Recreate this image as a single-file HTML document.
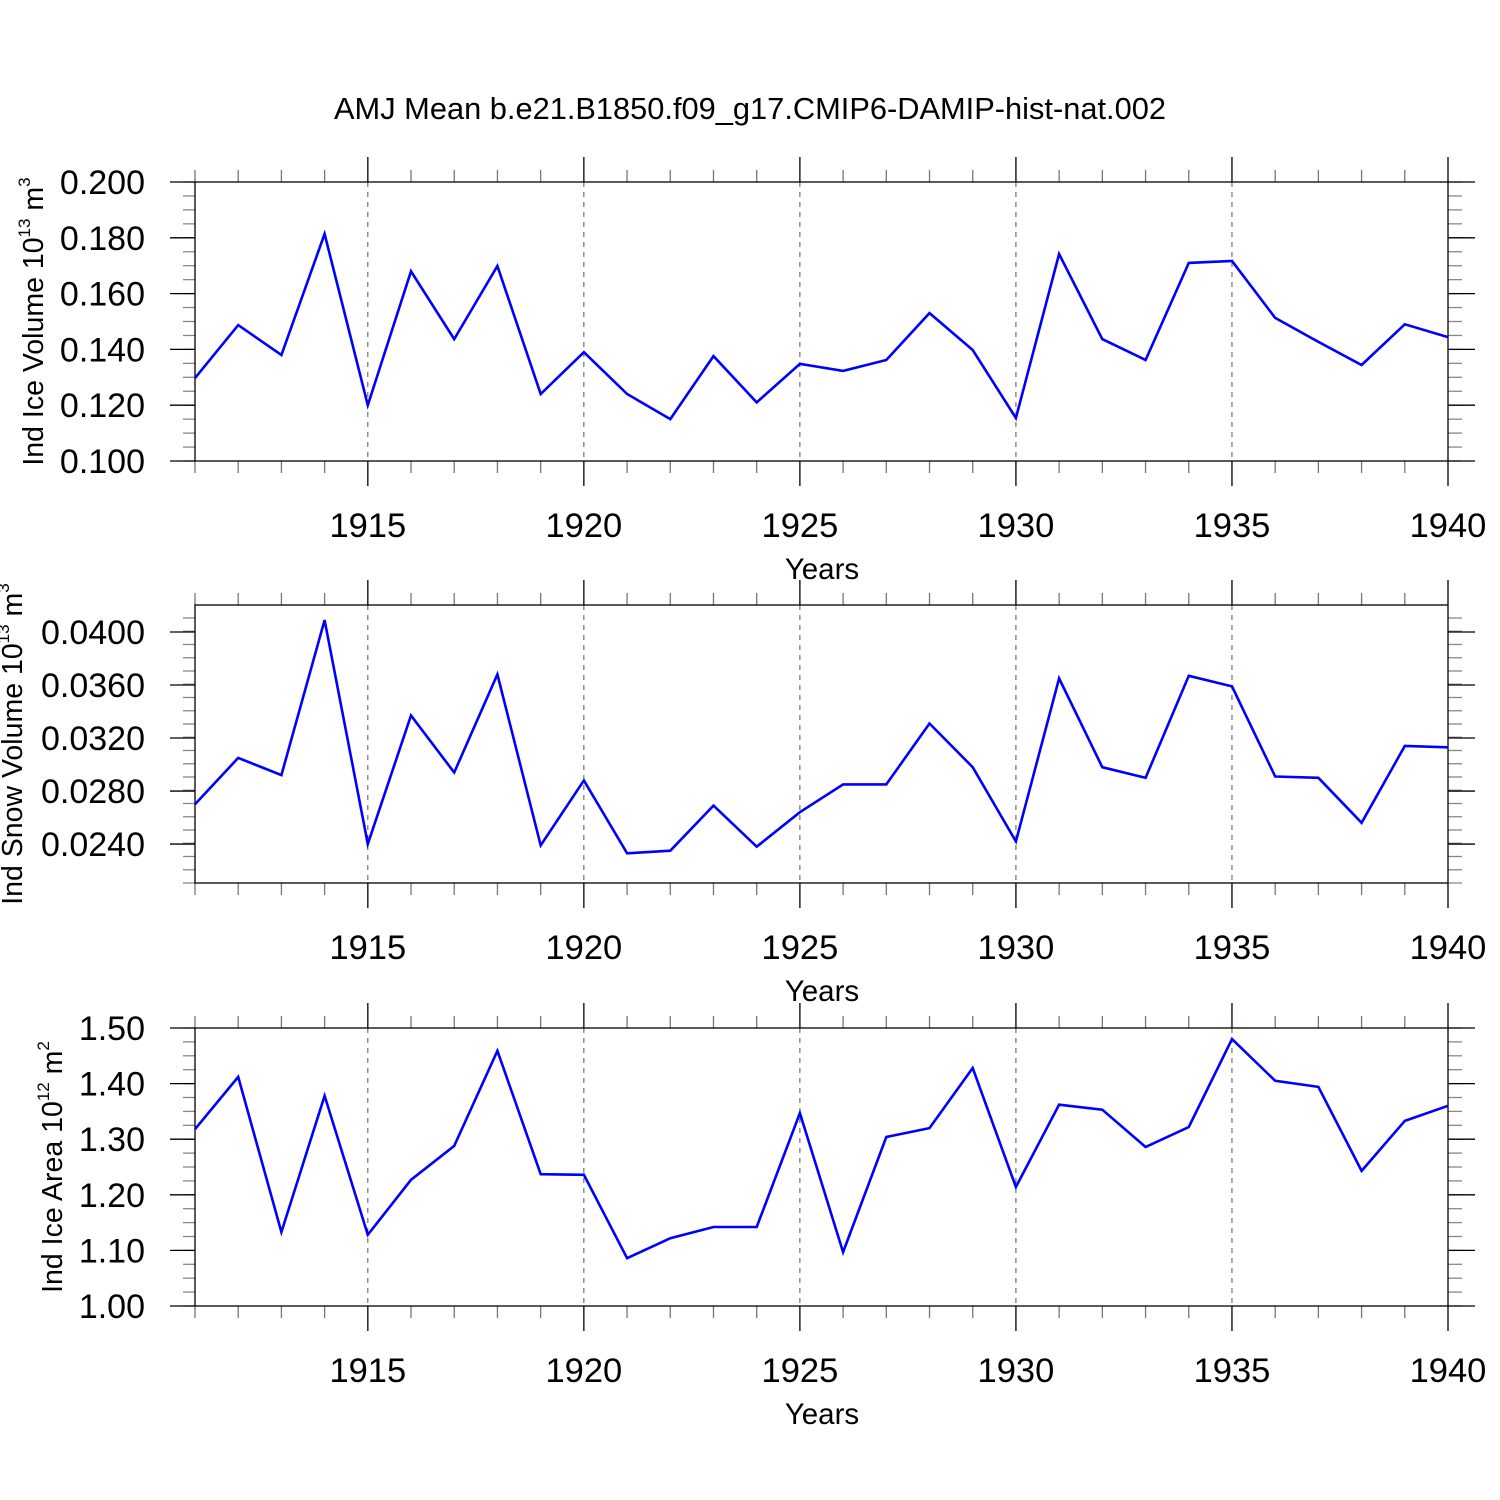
<!DOCTYPE html>
<html><head><meta charset="utf-8"><style>
html,body{margin:0;padding:0;background:#fff;}
svg{display:block;font-family:"Liberation Sans",Arial,sans-serif;}
</style></head><body>
<svg id="chart" width="1500" height="1500" viewBox="0 0 1500 1500" xmlns="http://www.w3.org/2000/svg">
<rect width="1500" height="1500" fill="#fff"/>
<text x="750" y="119" font-size="30.8" text-anchor="middle">AMJ Mean b.e21.B1850.f09_g17.CMIP6-DAMIP-hist-nat.002</text>
</svg>
<script>
const years = [1911,1912,1913,1914,1915,1916,1917,1918,1919,1920,1921,1922,1923,1924,1925,1926,1927,1928,1929,1930,1931,1932,1933,1934,1935,1936,1937,1938,1939,1940];
const xTickLabels = ["1915","1920","1925","1930","1935","1940"];
const iceVolume = [0.1297,0.1487,0.138,0.1814,0.120,0.168,0.1437,0.1699,0.124,0.139,0.124,0.115,0.1376,0.121,0.1348,0.1323,0.1362,0.153,0.1398,0.1154,0.1742,0.1437,0.1362,0.171,0.1717,0.1513,0.1427,0.1344,0.149,0.1444];
const snowVolume = [0.0270,0.0305,0.0292,0.0409,0.0240,0.0337,0.0294,0.0368,0.0239,0.0288,0.0233,0.0235,0.0269,0.0238,0.0264,0.0285,0.0285,0.0331,0.0298,0.0242,0.0365,0.0298,0.0290,0.0367,0.0359,0.0291,0.0290,0.0256,0.0314,0.0313];
const iceArea = [1.318,1.412,1.133,1.378,1.128,1.227,1.288,1.459,1.237,1.236,1.086,1.122,1.142,1.142,1.347,1.097,1.304,1.320,1.428,1.214,1.362,1.353,1.286,1.322,1.480,1.405,1.394,1.243,1.333,1.360];
const iceVolTicks = ["0.100","0.120","0.140","0.160","0.180","0.200"];
const snowTicks = ["0.0240","0.0280","0.0320","0.0360","0.0400"];
const areaTicks = ["1.00","1.10","1.20","1.30","1.40","1.50"];

const NS = "http://www.w3.org/2000/svg";
const svg = document.getElementById("chart");
const L = 195, R = 1448, X0 = 1911, X1 = 1940;
function xs(v){ return L + (v - X0) / (X1 - X0) * (R - L); }
function mk(tag, attrs, parent){ const e = document.createElementNS(NS, tag); for (const k in attrs) e.setAttribute(k, attrs[k]); (parent||svg).appendChild(e); return e; }

function panel(cfg){
  const g = mk("g", {});
  
  
  const T = cfg.top, B = cfg.bottom;
  const ys = v => B - (v - cfg.ymin) / (cfg.ymax - cfg.ymin) * (B - T);
  for (let yr = 1915; yr <= 1935; yr += 5) {
    const gl = mk("line", {x1: xs(yr), x2: xs(yr), y1: T, y2: B, stroke: "#555", "stroke-width": 1, "stroke-dasharray": "5,5"}, g);
    
    
  }
  for (let yr = X0; yr <= X1; yr++) {
    const major = (yr % 5 === 0);
    const len = major ? 25 : 12;
    const col = major ? "#000" : "#777";
    mk("line", {x1: xs(yr), x2: xs(yr), y1: T, y2: T - len, stroke: col, "stroke-width": 1.3}, g);
    mk("line", {x1: xs(yr), x2: xs(yr), y1: B, y2: B + len, stroke: col, "stroke-width": 1.3}, g);
  }
  xTickLabels.forEach(lab => {
    const t = mk("text", {x: xs(+lab), y: B + 76, "font-size": 34.5, "text-anchor": "middle"}, g);
    t.textContent = lab;
    
    
  });
  const xt = mk("text", {x: 822, y: B + 118, "font-size": 29.5, "text-anchor": "middle"}, g);
  xt.textContent = "Years";
  
  
  for (let v = cfg.ymin; v <= cfg.ymax + 1e-9; v += cfg.minor) {
    const y = ys(v);
    mk("line", {x1: L - 12, x2: L, y1: y, y2: y, stroke: "#888", "stroke-width": 1.3}, g);
    mk("line", {x1: R, x2: R + 14, y1: y, y2: y, stroke: "#888", "stroke-width": 1.3}, g);
  }
  cfg.ticks.forEach(lab => {
    const y = ys(+lab);
    mk("line", {x1: L - 25, x2: L, y1: y, y2: y, stroke: "#000", "stroke-width": 1.3}, g);
    mk("line", {x1: R, x2: R + 27, y1: y, y2: y, stroke: "#000", "stroke-width": 1.3}, g);
    const t = mk("text", {x: 145, y: y + 12, "font-size": 34, "text-anchor": "end"}, g);
    t.textContent = lab;
    
    
  });
  const fr = mk("rect", {x: L, y: T, width: R - L, height: B - T, fill: "none", stroke: "#000", "stroke-width": 1.3}, g);
  
  
  const pts = cfg.data.map((v, i) => xs(years[i]).toFixed(1) + "," + ys(v).toFixed(1)).join(" ");
  const pl = mk("polyline", {points: pts, fill: "none", stroke: "#0000ff", "stroke-width": 2.6, "stroke-linejoin": "miter"}, g);
  
  
  const cy = (T + B) / 2;
  const yt = mk("text", {x: cfg.titleX, y: cy, "font-size": 28.5, "text-anchor": "middle", transform: "rotate(-90 " + cfg.titleX + " " + cy + ")"}, g);
  yt.innerHTML = cfg.title + ' 10<tspan dy="-13" font-size="17">' + cfg.exp + '</tspan><tspan dy="13"> m</tspan><tspan dy="-13" font-size="17">' + cfg.unitExp + '</tspan>';
  
  
}

panel({name: "ice-volume-panel", top: 182, bottom: 461, ymin: 0.1, ymax: 0.2, minor: 0.005, ticks: iceVolTicks, data: iceVolume, title: "Ind Ice Volume", exp: "13", unitExp: "3", titleX: 43});
panel({name: "snow-volume-panel", top: 605, bottom: 883, ymin: 0.02106, ymax: 0.04204, minor: 0.001, ticks: snowTicks, data: snowVolume, title: "Ind Snow Volume", exp: "13", unitExp: "3", titleX: 22});
panel({name: "ice-area-panel", top: 1028, bottom: 1306, ymin: 1.0, ymax: 1.5, minor: 0.025, ticks: areaTicks, data: iceArea, title: "Ind Ice Area", exp: "12", unitExp: "2", titleX: 62});
</script>
</body></html>
